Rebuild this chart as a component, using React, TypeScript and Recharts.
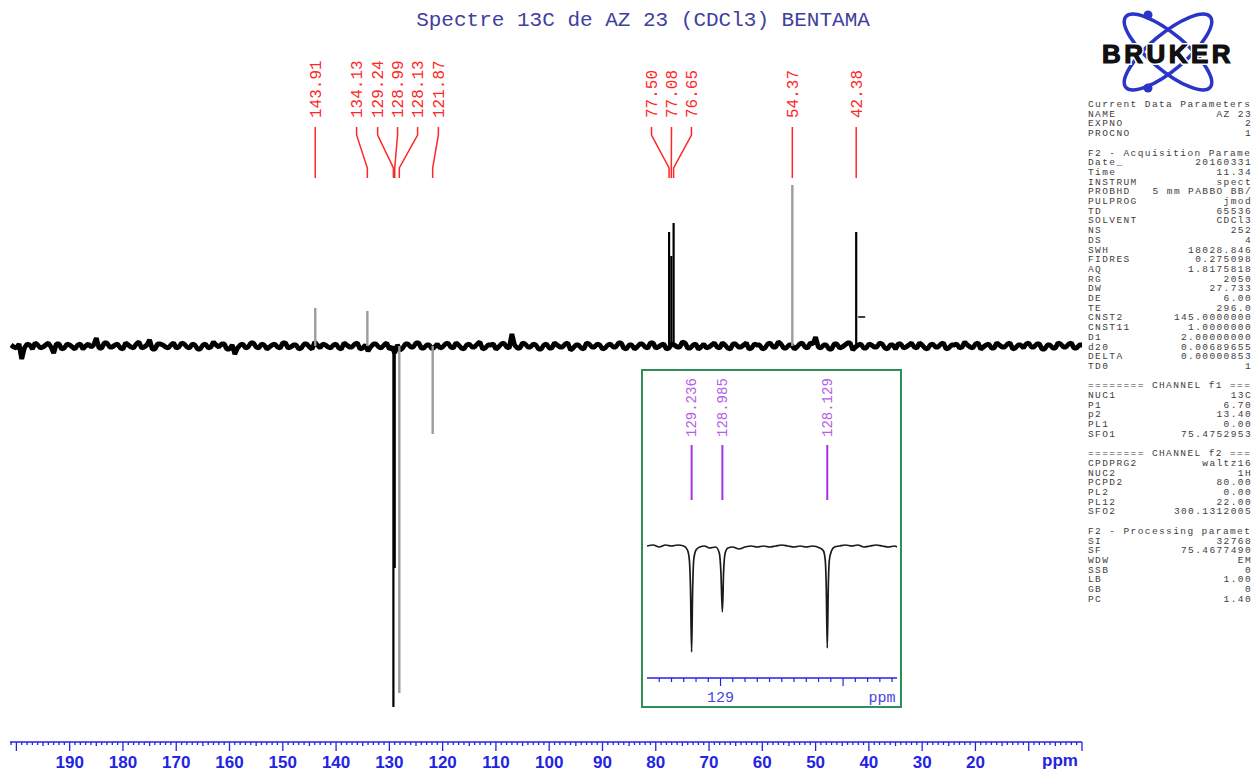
import React from 'react';
import { ComposedChart, Line, XAxis, YAxis } from 'recharts';

const W = 1253;
const H = 772;
const BLUE = '#2323e4';
const RED = '#ff2626';
const GREY_PEAK = '#9c9c9c';
const PURPLE_LINE = '#a236e0';
const PURPLE_TEXT = '#b45ee8';
const MONO = '"Liberation Mono", "DejaVu Sans Mono", monospace';
const SANS = '"Liberation Sans", Arial, sans-serif';

// baseline noise, one reading per ppm from 201 ppm down to 0 ppm
const NOISE_START = 201;
const noise = [
  1, -2, -13, 2, -3, 1, -1, 3, -7, 2,
  -2, 1, -3, 2, 0, -1, 8, -2, 3, -1,
  2, -3, 1, -2, 4, -1, 6, -3, 2, -1,
  1, -2, 3, -1, 2, -3, 1, -2, 4, -1,
  2, -3, -8, 1, -2, 3, -1, 2, -3, 1,
  -1, 3, -2, 1, -3, 2, -1, 4, -2, 1,
  -2, 2, -3, 1, -1, 3, -2, -5, 2, -1,
  1, -3, -7, -4, 2, -1, 3, -2, 1, -3,
  2, -1, 3, -2, 1, -3, 2, -1, 4, -2,
  1, -3, 2, -1, 12, -2, 3, -1, 2, -3,
  1, -2, 3, -1, 2, -4, 1, -2, 3, -1,
  2, -3, 1, -1, 3, -2, 1, -3, 2, -1,
  3, -2, 1, -3, 2, -1, 4, -2, 1, -3,
  2, -1, 3, -2, 1, -3, 2, -1, 3, -2,
  1, -3, 2, -1, 4, -2, 1, -3, 2, -1,
  3, 9, -2, 1, -3, 2, -1, 3, -4, 1,
  -2, 2, -1, 3, -2, 1, -3, 2, -1, 3,
  -2, 1, -3, 2, -1, 3, -2, 1, -2, 4,
  -1, 2, -3, 1, -2, 3, -1, 2, -3, 1,
  -2, 3, -1, 2, -3, 1, -2, 2, -1, 3,
  -2, 1,
];
// readings in between, from 200.5 ppm down to 0.5 ppm
const noiseHalf = [
  -1, 2, -2, 1, 3, -2, 1, -1, 2, -3,
  2, -1, 1, -3, 2, 1, -2, 3, -1, 1,
  -2, 3, -1, 2, -2, 1, -3, 2, 1, -2,
  3, -1, 2, -2, 1, -3, 2, -1, 1, 2,
  -3, 1, -2, 2, -1, 3, -2, 1, -1, 2,
  -2, 3, -1, 1, -2, 2, -3, 1, 2, -1,
  1, -2, 3, -1, 2, -3, 1, -1, 2, -2,
  3, -1, 1, -2, 2, -1, 3, -2, 1, -1,
  -2, 2, -1, 3, -2, 1, -1, 2, -3, 1,
  2, -1, 3, -2, 1, -2, 2, -1, 1, -3,
  2, -2, 1, -1, 3, -2, 1, -3, 2, -1,
  1, -2, 2, -1, 3, -3, 1, -1, 2, -2,
  3, -1, 2, -2, 1, -1, 3, -2, 2, -1,
  -2, 1, -1, 3, -2, 2, -1, 1, -3, 2,
  1, -2, 3, -1, 2, -2, 1, -1, 3, -2,
  2, -1, 1, -3, 2, -2, 1, 3, -1, 2,
  -2, 1, -1, 2, -3, 1, 2, -2, 1, -1,
  3, -2, 1, -1, 2, -3, 1, 2, -1, 1,
  -2, 3, -1, 2, -2, 1, -1, 3, -2, 1,
  2, -1, 2, -3, 1, -2, 3, -1, 2, -2,
  1,
];

// picked peaks (JMOD: CH/CH3 up, C/CH2 down)
const peakPpm = [143.91, 134.13, 129.24, 128.99, 128.13, 121.87, 77.5, 77.08, 76.65, 54.37, 42.38];
const peakInt = [38, 35, -361, -222, -347, -88, 114, 90, 123, 161, 114];
const peakGrey = [true, true, false, false, true, true, false, false, false, true, false];
const peakText = ['143.91', '134.13', '129.24', '128.99', '128.13', '121.87', '77.50', '77.08', '76.65', '54.37', '42.38'];
// where each label column sits on the ppm axis
const labelPpm = [143.91, 136.15, 132.2, 128.46, 124.7, 120.8, 80.8, 77.05, 73.3, 54.37, 42.38];

// small marker right of the 42.38 peak
const markPpm = [42.0, 40.7];
const markInt = [29, 29];

const axisLabels = [190, 180, 170, 160, 150, 140, 130, 120, 110, 100, 90, 80, 70, 60, 50, 40, 30, 20];
const mainTicks = Array.from({ length: 202 }, (_, i) => i);

// expansion 129.6 - 127.56 ppm
const insetPpm = [129.6, 129.55, 129.5, 129.45, 129.4, 129.35, 129.3, 129.27, 129.255, 129.245, 129.236, 129.228, 129.218, 129.2,
  129.17, 129.13, 129.09, 129.04, 129.01, 128.997, 128.985, 128.975, 128.962, 128.94, 128.9, 128.85, 128.8, 128.75, 128.7,
  128.65, 128.6, 128.55, 128.5, 128.45, 128.4, 128.35, 128.3, 128.25, 128.19, 128.16, 128.145, 128.137, 128.129, 128.121,
  128.112, 128.095, 128.07, 128.03, 127.98, 127.93, 127.88, 127.83, 127.78, 127.73, 127.68, 127.63, 127.58, 127.56];
const insetInt = [1, 2, 0, 2, 1, 2, 1, -3, -12, -42, -105, -45, -12, -3,
  0, 1, -1, 0, -6, -25, -65, -25, -6, -1, 0, -2, 0, 1, 0,
  1, 0, 1, 2, 1, 0, 1, 0, 1, -1, -4, -14, -42, -101, -42,
  -13, -4, 0, 1, 2, 1, 2, 0, 1, 2, 1, 0, 1, 0];
const insetPeaks = [129.236, 128.985, 128.129];
const insetPeakText = ['129.236', '128.985', '128.129'];
const insetAxisLabels = [129];
const insetTicks = Array.from({ length: 20 }, (_, i) => Math.round((127.6 + i * 0.1) * 10) / 10);

const params: [string, string][] = [
  ['Current Data Parameters', ''],
  ['NAME', 'AZ 23'],
  ['EXPNO', '2'],
  ['PROCNO', '1'],
  ['', ''],
  ['F2 - Acquisition Parame', ''],
  ['Date_', '20160331'],
  ['Time', '11.34'],
  ['INSTRUM', 'spect'],
  ['PROBHD', '5 mm PABBO BB/'],
  ['PULPROG', 'jmod'],
  ['TD', '65536'],
  ['SOLVENT', 'CDCl3'],
  ['NS', '252'],
  ['DS', '4'],
  ['SWH', '18028.846'],
  ['FIDRES', '0.275098'],
  ['AQ', '1.8175818'],
  ['RG', '2050'],
  ['DW', '27.733'],
  ['DE', '6.00'],
  ['TE', '296.0'],
  ['CNST2', '145.0000000'],
  ['CNST11', '1.0000000'],
  ['D1', '2.00000000'],
  ['d20', '0.00689655'],
  ['DELTA', '0.00000853'],
  ['TD0', '1'],
  ['', ''],
  ['======== CHANNEL f1 ===', ''],
  ['NUC1', '13C'],
  ['P1', '6.70'],
  ['p2', '13.40'],
  ['PL1', '0.00'],
  ['SFO1', '75.4752953'],
  ['', ''],
  ['======== CHANNEL f2 ===', ''],
  ['CPDPRG2', 'waltz16'],
  ['NUC2', '1H'],
  ['PCPD2', '80.00'],
  ['PL2', '0.00'],
  ['PL12', '22.00'],
  ['SFO2', '300.1312005'],
  ['', ''],
  ['F2 - Processing paramet', ''],
  ['SI', '32768'],
  ['SF', '75.4677490'],
  ['WDW', 'EM'],
  ['SSB', '0'],
  ['LB', '1.00'],
  ['GB', '0'],
  ['PC', '1.40'],
];

// interleave whole-ppm and half-ppm readings into one trace
const noiseData: { ppm: number; v: number }[] = [];
noise.forEach((v, i) => {
  noiseData.push({ ppm: NOISE_START - i, v });
  if (i < noiseHalf.length) noiseData.push({ ppm: NOISE_START - i - 0.5, v: noiseHalf[i] });
});
const insetData = insetPpm.map((ppm, i) => ({ ppm, v: insetInt[i] }));

const MainTick = (props: any) => {
  const { x, y, payload } = props;
  const v = payload.value;
  const len = v % 10 === 0 ? 9 : v % 5 === 0 ? 4 : 3;
  return (
    <g>
      <line x1={x} x2={x} y1={y} y2={y + len} stroke={BLUE} strokeWidth={1.3} />
      {axisLabels.includes(v) && (
        <text x={x} y={y + 26} textAnchor="middle" fontFamily={SANS} fontWeight="bold" fontSize={17} fill={BLUE}>
          {v}
        </text>
      )}
    </g>
  );
};

const InsetTick = (props: any) => {
  const { x, y, payload } = props;
  const v = Math.round(payload.value * 10) / 10;
  const major = Math.abs(v - Math.round(v)) < 1e-6;
  return (
    <g>
      <line x1={x} x2={x} y1={y} y2={y + (major ? 8 : 4)} stroke={BLUE} strokeWidth={1.2} />
      {insetAxisLabels.includes(v) && (
        <text x={x} y={y + 24} textAnchor="middle" fontFamily={MONO} fontSize={15} fill="#4646e0">
          {v}
        </text>
      )}
    </g>
  );
};

// first point of a label line carries the rotated text
const labelDot = (text: string, color: string, size: number, gap: number) => (p: any) => {
  if (p.index !== 0) return <g key={`e${p.index}`} />;
  const ty = p.cy - gap;
  return (
    <text key="t" x={p.cx} y={ty} dy="0.35em" transform={`rotate(-90 ${p.cx} ${ty})`}
      fontFamily={MONO} fontSize={size} fill={color}>
      {text}
    </text>
  );
};

export default function App() {
  return (
    <div style={{ position: 'absolute', left: 0, top: 0, width: W, height: H, background: '#fff', overflow: 'hidden' }}>
      <div style={{ position: 'absolute', left: 0, top: 0 }}>
        <ComposedChart width={W} height={H} margin={{ top: 50, right: 171, bottom: 0, left: 10 }}>
          <XAxis dataKey="ppm" type="number" domain={[0, 201.2]} reversed allowDataOverflow
            ticks={mainTicks} interval={0} tick={<MainTick />} tickSize={0} tickMargin={0} tickLine={false}
            axisLine={{ stroke: BLUE, strokeWidth: 1.5 }} height={30} />
          <YAxis dataKey="v" type="number" domain={[-396, 296]} allowDataOverflow hide />
          <Line data={noiseData} dataKey="v" type="linear" stroke="#000" strokeWidth={4.8} strokeLinejoin="bevel"
            dot={false} activeDot={false} isAnimationActive={false} />
          {peakPpm.map((ppm, i) => (
            <Line key={`p${i}`} data={[{ ppm, v: 0 }, { ppm, v: peakInt[i] }]} dataKey="v"
              stroke={peakGrey[i] ? GREY_PEAK : '#000'} strokeWidth={peakGrey[i] ? 2.4 : 2.2}
              dot={false} activeDot={false} isAnimationActive={false} />
          ))}
          <Line data={markPpm.map((ppm, i) => ({ ppm, v: markInt[i] }))} dataKey="v" stroke="#000" strokeWidth={1.5}
            dot={false} activeDot={false} isAnimationActive={false} />
          {peakPpm.map((ppm, i) => (
            <Line key={`l${i}`} dataKey="v"
              data={[{ ppm: labelPpm[i], v: 219 }, { ppm: labelPpm[i], v: 211 }, { ppm, v: 178 }, { ppm, v: 168 }]}
              stroke={RED} strokeWidth={1.5} dot={labelDot(peakText[i], RED, 16, 9)} activeDot={false}
              isAnimationActive={false} />
          ))}
        </ComposedChart>
      </div>

      <div style={{ position: 'absolute', left: 641, top: 369, width: 261, height: 339, background: '#fff' }}>
        <ComposedChart width={261} height={339} margin={{ top: 3, right: 5, bottom: 0, left: 6 }}>
          <XAxis dataKey="ppm" type="number" domain={[127.56, 129.6]} reversed allowDataOverflow
            ticks={insetTicks} interval={0} tick={<InsetTick />} tickSize={0} tickMargin={0} tickLine={false}
            axisLine={{ stroke: BLUE, strokeWidth: 1.5 }} height={30} />
          <YAxis dataKey="v" type="number" domain={[-131, 175]} allowDataOverflow hide />
          <Line data={insetData} dataKey="v" type="monotone" stroke="#1a1a1a" strokeWidth={1.7} dot={false}
            activeDot={false} isAnimationActive={false} />
          {insetPeaks.map((ppm, i) => (
            <Line key={`il${i}`} dataKey="v" data={[{ ppm, v: 102 }, { ppm, v: 47 }]}
              stroke={PURPLE_LINE} strokeWidth={2} dot={labelDot(insetPeakText[i], PURPLE_TEXT, 14, 8)}
              activeDot={false} isAnimationActive={false} />
          ))}
        </ComposedChart>
        <div style={{ position: 'absolute', left: 0, top: 0, width: 261, height: 339, boxSizing: 'border-box', border: '2px solid #2f8f58' }} />
      </div>

      <svg width={W} height={H} style={{ position: 'absolute', left: 0, top: 0, pointerEvents: 'none' }}>
        <text x={643} y={26} textAnchor="middle" fontFamily={MONO} fontSize={21} fill="#40409e">
          Spectre 13C de AZ 23 (CDCl3) BENTAMA
        </text>
        <text x={1060} y={766} textAnchor="middle" fontFamily={SANS} fontWeight="bold" fontSize={17} fill={BLUE}>ppm</text>
        <text x={882} y={702} textAnchor="middle" fontFamily={MONO} fontSize={15} fill="#4646e0">ppm</text>

        <g>
          <ellipse cx={1168} cy={52} rx={55} ry={18} transform="rotate(40 1168 52)" fill="none" stroke="#2a35c8" strokeWidth={3.5} />
          <ellipse cx={1168} cy={52} rx={55} ry={18} transform="rotate(-40 1168 52)" fill="none" stroke="#2a35c8" strokeWidth={3.5} />
          <circle cx={1148} cy={15} r={4.5} fill="#2a35c8" />
          <circle cx={1148} cy={88} r={4.5} fill="#2a35c8" />
          <text x={1168} y={63} textAnchor="middle" fontFamily={SANS} fontWeight="bold" fontSize={26} letterSpacing={3.5}
            fill="#111" stroke="#fff" strokeWidth={4} paintOrder="stroke">BRUKER</text>
          <text x={1168} y={63} textAnchor="middle" fontFamily={SANS} fontWeight="bold" fontSize={26} letterSpacing={3.5}
            fill="#111" stroke="#111" strokeWidth={1.1}>BRUKER</text>
        </g>

        {params.map(([k, v], i) => (
          <g key={`pr${i}`} fontFamily={MONO} fontSize={9.5} letterSpacing={1.4} fill="#3e3e3e">
            {k && <text x={1088} y={107 + i * 9.7}>{k}</text>}
            {v && <text x={1252} y={107 + i * 9.7} textAnchor="end">{v}</text>}
          </g>
        ))}
      </svg>
    </div>
  );
}
